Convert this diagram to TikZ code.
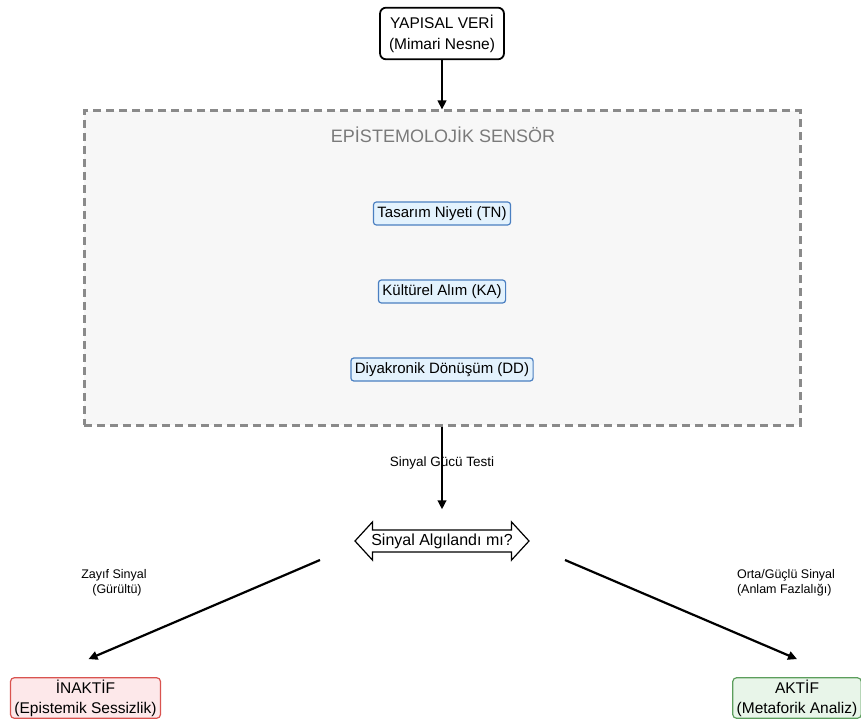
\documentclass[tikz,border=0pt]{standalone}
\usepackage{fontspec}
\setmainfont{Liberation Sans}
\usetikzlibrary{arrows.meta,shapes.arrows,calc}
\definecolor{bluefill}{HTML}{E3F2FD}
\definecolor{blueline}{HTML}{4A7FC1}
\definecolor{redfill}{HTML}{FDE8EA}
\definecolor{redline}{HTML}{D9534F}
\definecolor{greenfill}{HTML}{E8F5E9}
\definecolor{greenline}{HTML}{5C9E5C}
\definecolor{dashgray}{HTML}{8A8A8A}
\definecolor{boxfill}{HTML}{F7F7F7}
\definecolor{titlegray}{HTML}{7A7A7A}
\tikzset{
  mainbox/.style={draw=black, line width=1.8pt, rounded corners=6pt, fill=white, align=center,
    font=\fontsize{15.5}{21}\selectfont, inner xsep=9pt, inner ysep=7pt},
  compbox/.style={draw=blueline, line width=1.2pt, rounded corners=3pt, fill=bluefill,
    font=\fontsize{15}{18}\selectfont, inner xsep=4pt, inner ysep=4.5pt},
  endbox/.style={line width=1.2pt, rounded corners=4pt, align=center,
    font=\fontsize{15.5}{20}\selectfont, inner xsep=4pt, inner ysep=2pt},
  conn/.style={line width=2.2pt, -{Triangle[length=9pt,width=8.5pt]}},
  smalllabel/.style={font=\fontsize{12.5}{15}\selectfont, align=center}
}
\begin{document}
\begin{tikzpicture}[x=1pt,y=-1pt]
\useasboundingbox (0,0) rectangle (861,722);
% top node
\node[mainbox] (top) at (442,33.5) {YAPISAL VERİ\\(Mimari Nesne)};
% sensor box
\node[draw=dashgray, line width=3pt, dash pattern=on 8pt off 5pt, fill=boxfill,
  minimum width=716pt, minimum height=314pt, inner sep=0pt] (sensor) at (442,268) {};
\node[text=titlegray, font=\fontsize{18}{20}\selectfont] (title) at (443,135) {EPİSTEMOLOJİK SENSÖR};
\node[compbox] (tn) at (442,213.5) {Tasarım Niyeti (TN)};
\node[compbox] (ka) at (442,291.5) {Kültürel Alım (KA)};
\node[compbox] (dd) at (442,369.5) {Diyakronik Dönüşüm (DD)};
% decision
\node[double arrow, draw=black, line width=1.2pt, fill=white, minimum height=174pt,
  double arrow head extend=8pt, double arrow tip angle=95, inner xsep=1pt, inner ysep=3pt,
  font=\fontsize{16}{18}\selectfont] (dec) at (442,541) {Sinyal Algılandı mı?};
% end nodes
\node[endbox, draw=redline, fill=redfill] (inak) at (85.5,698) {İNAKTİF\\(Epistemik Sessizlik)};
\node[endbox, draw=greenline, fill=greenfill] (akt) at (797,698) {AKTİF\\(Metaforik Analiz)};
% connectors
\draw[conn] (top) -- (sensor);
\draw[conn, shorten >=20pt] (sensor) -- (dec);
\node[font=\fontsize{13.5}{15}\selectfont] (testlbl) at (442,463) {Sinyal Gücü Testi};
\draw[line width=2.2pt] (442,440) -- (442,480);
\draw[conn] ($(dec.center)+(-122,19)$) -- ($(inak.north)+(3,-18)$);
\draw[conn] ($(dec.center)+(123,19)$) -- ($(akt.north)+(0,-18)$);
\node[smalllabel] (zlbl) at (114,583) {Zayıf Sinyal\\\hspace*{6pt}(Gürültü)};
\node[smalllabel, align=left] (olbl) at (786,583) {Orta/Güçlü Sinyal\\(Anlam Fazlalığı)};
\end{tikzpicture}
\end{document}
